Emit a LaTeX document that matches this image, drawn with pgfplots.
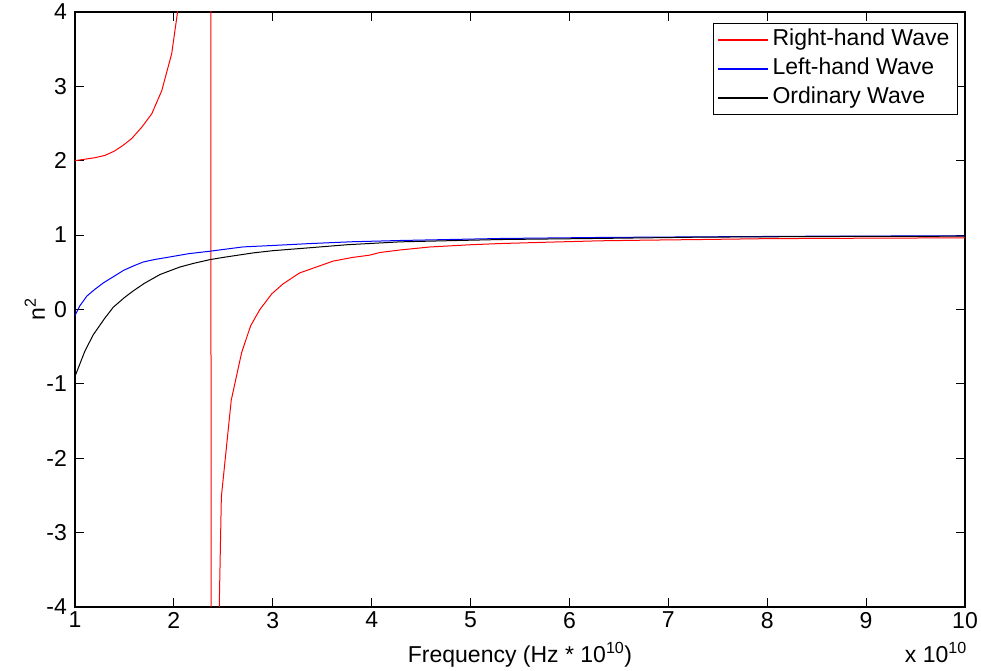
\documentclass[border=0pt]{standalone}
\usepackage{fontspec}
\setmainfont{Liberation Sans}
\usepackage{pgfplots}
\pgfplotsset{compat=1.18}
\definecolor{mred}{RGB}{255,0,0}
\definecolor{mblue}{RGB}{0,0,255}
\begin{document}
\begin{tikzpicture}[font=\fontsize{23}{27}\selectfont]
\begin{axis}[
  scale only axis, width=890pt, height=595pt,
  xmin=1, xmax=10, ymin=-4, ymax=4,
  xtick={1,2,...,10}, ytick={-4,-3,...,4},
  /pgf/number format/assume math mode=true,
  tick align=inside, major tick length=9pt,
  axis line style={line width=1.2pt},
  every tick/.style={black, line width=0.9pt},
  xticklabel style={inner sep=0pt, yshift=-5pt},
  yticklabel style={inner sep=0pt, xshift=-8pt},
  xlabel={Frequency (Hz * 10\textsuperscript{10})},
  xlabel style={at={(axis description cs:0.5,-0.0941)}, anchor=base, inner sep=0pt},
  ylabel={n\textsuperscript{2}},
  ylabel style={at={(axis description cs:-0.0337,0.5)}, anchor=south, inner sep=0pt},
  clip mode=individual,
  legend cell align=left,
  legend image code/.code={\draw[#1, line width=1.6pt] (0pt,0pt) -- (50pt,0pt);},
  legend style={at={(0.992,0.981)}, anchor=north east, draw=black, line width=0.9pt,
    inner xsep=4pt, inner ysep=2pt, row sep=0pt,
    nodes={text height=16pt, text depth=5pt, inner sep=4pt}},
]
\coordinate (SW) at (rel axis cs:0,0);
\coordinate (NE) at (rel axis cs:1,1);
\addplot[color=mred, line width=1pt] coordinates {
(1.0,2.0)(1.1,2.02)(1.2,2.04)(1.3,2.07)(1.4,2.13)(1.49,2.21)(1.575,2.30)(1.675,2.45)
(1.776,2.63)(1.877,2.94)(1.978,3.44)(2.035,3.98)(2.1,5.2)(2.2,8)(2.3,20)(2.35,60)
(2.40,-60)(2.45,-4.6)(2.48,-2.52)(2.58,-1.22)(2.685,-0.58)(2.776,-0.22)(2.87,0.0)
(2.99,0.21)(3.1,0.34)(3.27,0.49)(3.44,0.57)(3.61,0.65)(3.81,0.70)(3.98,0.73)(4.08,0.765)
(4.29,0.80)(4.59,0.84)(5.0,0.87)(5.3,0.886)(5.8,0.905)(6.31,0.923)(6.8,0.932)(7.32,0.94)
(8.0,0.952)(9.0,0.958)(10.0,0.963)
};
\addlegendentry{Right-hand Wave}
\addplot[color=mblue, line width=1pt] coordinates {
(1.0,-0.08)(1.05,0.05)(1.12,0.18)(1.2,0.27)(1.29,0.36)(1.4,0.45)(1.49,0.525)(1.6,0.59)(1.69,0.638)
(1.8,0.67)(1.96,0.706)(2.15,0.75)(2.365,0.783)(2.7,0.841)(3.0,0.86)(3.38,0.886)(3.8,0.91)
(4.29,0.927)(5.3,0.954)(6.31,0.968)(7.32,0.976)(8.5,0.985)(10.0,0.99)
};
\addlegendentry{Left-hand Wave}
\addplot[color=black, line width=1pt] coordinates {
(1.0,-0.90)(1.1,-0.56)(1.185,-0.34)(1.3,-0.12)(1.387,0.03)(1.5,0.16)(1.59,0.25)(1.7,0.35)
(1.86,0.47)(2.06,0.57)(2.2,0.62)(2.365,0.67)(2.5,0.70)(2.6,0.72)(2.8,0.76)(3.0,0.79)
(3.38,0.83)(3.75,0.87)(4.29,0.909)(4.8,0.925)(5.3,0.94)(6.31,0.955)(7.32,0.972)(8.5,0.98)(10.0,0.985)
};
\addlegendentry{Ordinary Wave}
\node[anchor=base east, inner sep=0pt] at ([xshift=2pt,yshift=-56pt]rel axis cs:1,0) {x 10\textsuperscript{10}};
\end{axis}
\pgfresetboundingbox
\path ([xshift=-75pt,yshift=-63pt]SW) rectangle ([xshift=16pt,yshift=12pt]NE);
\end{tikzpicture}
\end{document}
